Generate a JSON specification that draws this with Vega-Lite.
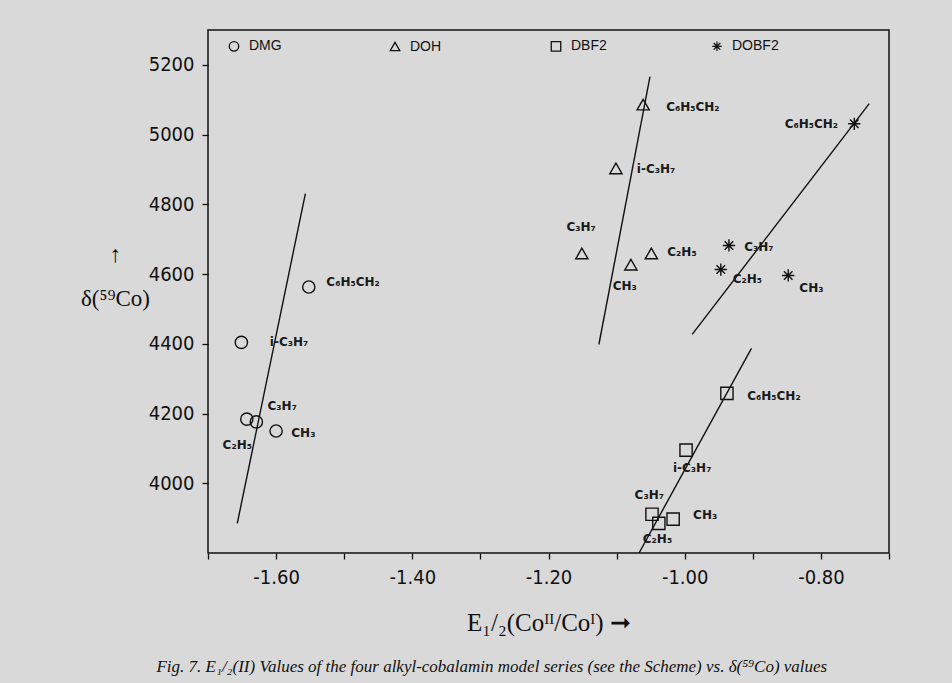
{
  "$schema": "https://vega.github.io/schema/vega-lite/v6.json",
  "width": 681,
  "height": 523,
  "autosize": {"type": "none"},
  "padding": {"left": 208, "top": 30, "right": 63, "bottom": 130},
  "background": "#d9d9d9",
  "config": {
    "view": {"stroke": "#111111", "strokeWidth": 1.5},
    "axis": {
      "domain": false,
      "grid": false,
      "labelColor": "#111111",
      "labelFont": "Liberation Sans Narrow, DejaVu Sans Condensed, Roboto, sans-serif",
      "labelFontSize": 20,
      "titleColor": "#111111",
      "titleFont": "Liberation Serif",
      "titleFontWeight": "normal",
      "titleFontSize": 22
    }
  },
  "title": {
    "text": "Fig. 7. E₁/₂(II) Values of the four alkyl-cobalamin model series (see the Scheme) vs. δ(⁵⁹Co) values",
    "orient": "bottom",
    "anchor": "start",
    "dx": 76,
    "offset": 24,
    "font": "Liberation Serif",
    "fontSize": 17,
    "fontStyle": "italic",
    "fontWeight": "normal",
    "color": "#111111"
  },
  "datasets": {
    "lines": [
      {"series": "DMG", "E": -1.557, "delta": 4831},
      {"series": "DMG", "E": -1.657, "delta": 3885},
      {"series": "DOH", "E": -1.051, "delta": 5166},
      {"series": "DOH", "E": -1.126, "delta": 4398},
      {"series": "DOBF2", "E": -0.729, "delta": 5089},
      {"series": "DOBF2", "E": -0.989, "delta": 4427},
      {"series": "DBF2", "E": -0.902, "delta": 4387},
      {"series": "DBF2", "E": -1.067, "delta": 3800}
    ],
    "points": [
      {"series": "DMG", "label": "C₆H₅CH₂", "E": -1.552, "delta": 4563, "lx": -1.487, "ly": 4576},
      {"series": "DMG", "label": "i-C₃H₇", "E": -1.651, "delta": 4404, "lx": -1.581, "ly": 4404},
      {"series": "DMG", "label": "C₃H₇", "E": -1.629, "delta": 4176, "lx": -1.591, "ly": 4221},
      {"series": "DMG", "label": "C₂H₅", "E": -1.643, "delta": 4184, "lx": -1.657, "ly": 4109},
      {"series": "DMG", "label": "CH₃", "E": -1.6, "delta": 4150, "lx": -1.56, "ly": 4143},
      {"series": "DOH", "label": "C₆H₅CH₂", "E": -1.061, "delta": 5086, "lx": -0.988, "ly": 5080},
      {"series": "DOH", "label": "i-C₃H₇", "E": -1.101, "delta": 4903, "lx": -1.042, "ly": 4900},
      {"series": "DOH", "label": "C₃H₇", "E": -1.151, "delta": 4659, "lx": -1.152, "ly": 4734},
      {"series": "DOH", "label": "C₂H₅", "E": -1.049, "delta": 4659, "lx": -1.004, "ly": 4662},
      {"series": "DOH", "label": "CH₃", "E": -1.079, "delta": 4627, "lx": -1.088, "ly": 4567},
      {"series": "DOBF2", "label": "C₆H₅CH₂", "E": -0.751, "delta": 5031, "lx": -0.814, "ly": 5031},
      {"series": "DOBF2", "label": "C₃H₇", "E": -0.935, "delta": 4682, "lx": -0.891, "ly": 4679},
      {"series": "DOBF2", "label": "C₂H₅", "E": -0.947, "delta": 4613, "lx": -0.908, "ly": 4585},
      {"series": "DOBF2", "label": "CH₃", "E": -0.848, "delta": 4596, "lx": -0.814, "ly": 4559},
      {"series": "DBF2", "label": "C₆H₅CH₂", "E": -0.938, "delta": 4258, "lx": -0.869, "ly": 4249},
      {"series": "DBF2", "label": "i-C₃H₇", "E": -0.998, "delta": 4095, "lx": -0.989, "ly": 4043},
      {"series": "DBF2", "label": "C₃H₇", "E": -1.048, "delta": 3911, "lx": -1.052, "ly": 3966},
      {"series": "DBF2", "label": "C₂H₅", "E": -1.038, "delta": 3885, "lx": -1.04, "ly": 3840},
      {"series": "DBF2", "label": "CH₃", "E": -1.017, "delta": 3897, "lx": -0.97, "ly": 3908}
    ]
  },
  "layer": [
    {
      "data": {"name": "lines"},
      "mark": {"type": "line", "color": "#111111", "strokeWidth": 1.4},
      "encoding": {
        "x": {
          "field": "E", "type": "quantitative",
          "scale": {"domain": [-1.7, -0.7], "nice": false, "zero": false},
          "axis": {
            "values": [-1.7, -1.6, -1.5, -1.4, -1.3, -1.2, -1.1, -1.0, -0.9, -0.8, -0.7],
            "labelExpr": "(abs(round(datum.value*10)) % 2 == 0 && datum.value > -1.65 && datum.value < -0.75) ? '-' + format(abs(datum.value), '.2f') : ''",
            "ticks": true,
            "tickColor": "#111111",
            "tickSize": 6,
            "tickWidth": 1.3,
            "labelPadding": 8,
            "title": "E₁/₂(Coᴵᴵ/Coᴵ)  ➞",
            "titleFontSize": 25,
            "titleY": 77,
            "titleBaseline": "alphabetic"
          }
        },
        "y": {
          "field": "delta", "type": "quantitative",
          "scale": {"domain": [3800, 5300], "nice": false, "zero": false},
          "axis": {
            "values": [4000, 4200, 4400, 4600, 4800, 5000, 5200],
            "format": "d",
            "ticks": true,
            "tickColor": "#111111",
            "tickSize": 6,
            "tickWidth": 1.3,
            "labelPadding": 8,
            "title": ["↑", "δ(⁵⁹Co)"],
            "titleAngle": 0,
            "titleAlign": "center",
            "titleBaseline": "top",
            "titleX": -93,
            "titleY": 213,
            "titleFontSize": 23,
            "titleLineHeight": 44
          }
        },
        "detail": {"field": "series"}
      }
    },
    {
      "data": {"name": "points"},
      "mark": {"type": "point", "filled": false, "color": "#111111", "strokeWidth": 1.4, "size": 150, "opacity": 1},
      "encoding": {
        "x": {"field": "E", "type": "quantitative"},
        "y": {"field": "delta", "type": "quantitative"},
        "shape": {
          "field": "series", "type": "nominal",
          "scale": {
            "domain": ["DMG", "DOH", "DBF2", "DOBF2"],
            "range": ["circle", "triangle-up", "square", "M0,-1L0,1M-1,0L1,0M-0.7,-0.7L0.7,0.7M-0.7,0.7L0.7,-0.7"]
          },
          "legend": {
            "title": null,
            "orient": "none",
            "legendX": 19,
            "legendY": 9,
            "direction": "horizontal",
            "columns": 4,
            "gridAlign": "all",
            "columnPadding": 91,
            "padding": 0,
            "symbolSize": 90,
            "symbolStrokeColor": "#111111",
            "symbolFillColor": "transparent",
            "symbolStrokeWidth": 1.3,
            "labelOffset": 8,
            "labelFont": "Liberation Sans",
            "labelFontSize": 14,
            "labelColor": "#111111"
          }
        }
      }
    },
    {
      "data": {"name": "points"},
      "mark": {"type": "text", "font": "DejaVu Sans", "fontSize": 12, "fontWeight": "bold", "color": "#1a1a1a", "align": "center", "baseline": "middle"},
      "encoding": {
        "x": {"field": "lx", "type": "quantitative"},
        "y": {"field": "ly", "type": "quantitative"},
        "text": {"field": "label"}
      }
    }
  ]
}
